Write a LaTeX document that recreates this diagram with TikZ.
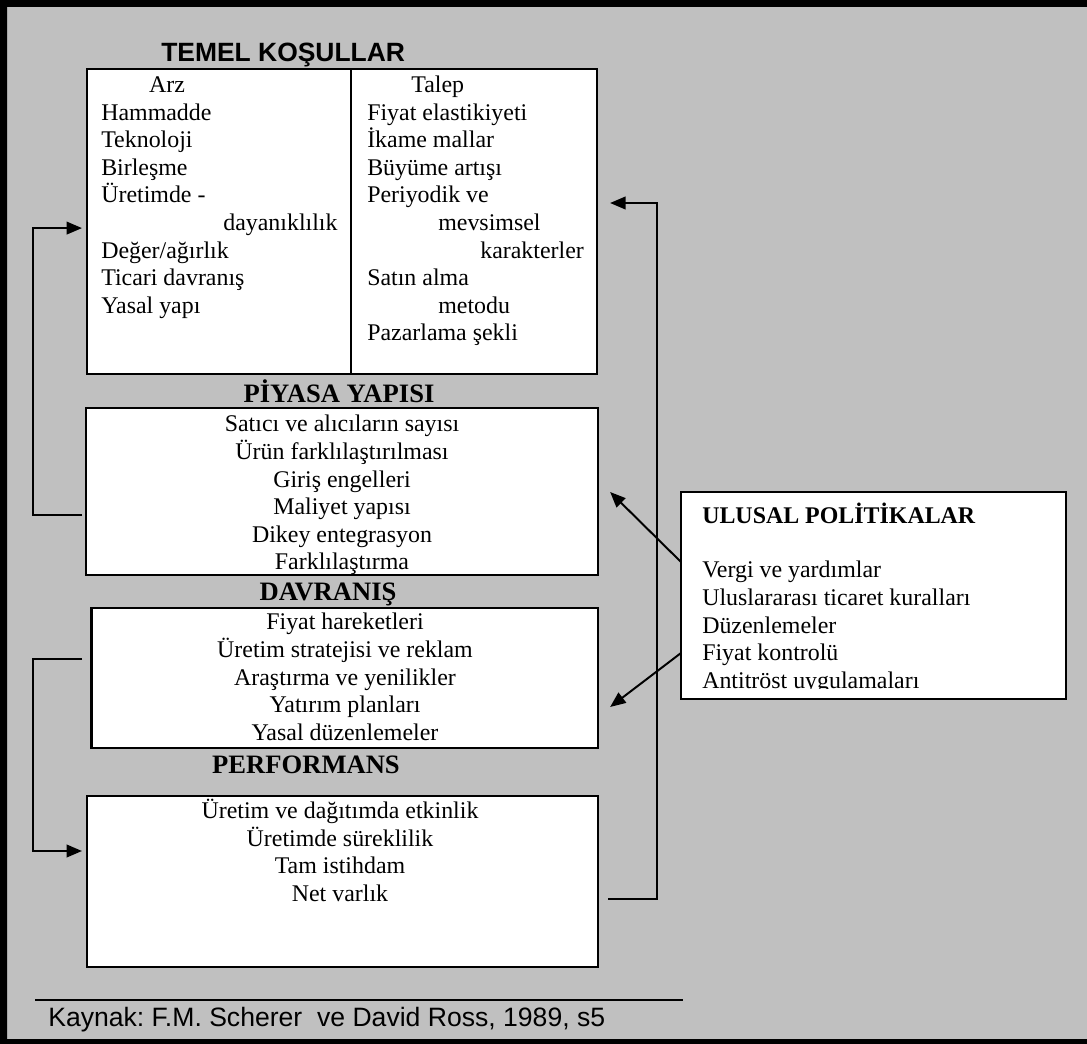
\documentclass[tikz,border=0pt]{standalone}
\usepackage{fontspec}
\setmainfont{Liberation Serif}
\newfontfamily\arialfont{Liberation Sans}
\usetikzlibrary{calc,arrows.meta}
\frenchspacing

\begin{document}
\begin{tikzpicture}[x=0.025cm,y=-0.025cm,line cap=butt,line join=miter]
\definecolor{panelgrey}{rgb}{0.753,0.753,0.753}
\tikzset{
  box/.style={draw=black,fill=white,line width=1.8pt,inner sep=0pt,outer sep=0pt,anchor=north west},
  conn/.style={line width=1.4pt},
  tip/.style={-{Triangle[length=11pt,width=9pt]}},
  body/.style={inner sep=0pt,font=\fontsize{17}{19.6}\selectfont},
  title/.style={inner sep=0pt,anchor=base,font=\fontsize{18.9}{22}\selectfont\bfseries},
}
  \useasboundingbox (0,0) rectangle (1087,1044);
  \fill[panelgrey] (0,0) rectangle (1087,1044);
  % heavy frame, runs off the right edge
  \fill[black,even odd rule] (0,0) rectangle (1100,1044) (7,7) rectangle (1100,1039);

  % the four stacked boxes
  \node[box,minimum width=12.75cm,minimum height=7.625cm] (kosul) at (87,69) {};
  \node[box,minimum width=12.8cm,minimum height=4.175cm] (piyasa) at (86,408) {};
  \node[box,minimum width=12.6625cm,minimum height=3.5cm] (davranis) at (91.5,608) {};
  \node[box,minimum width=12.775cm,minimum height=4.275cm] (perf) at (87,796) {};
  \node[box,line width=1.3pt,minimum width=9.625cm,minimum height=5.175cm] (ulusal) at (681,492) {};

  \draw[line width=1.8pt] ($(kosul.north west)+(264,0)$) -- ($(kosul.south west)+(264,0)$);

  % headings
  \node[inner sep=0pt,anchor=base west,font=\arialfont\fontsize{18.8}{22}\selectfont\bfseries] (temelbaslik) at (161,62) {TEMEL KOŞULLAR};
  \node[title] (piyasabaslik) at (339,402) {PİYASA YAPISI};
  \node[title] (davranisbaslik) at (328,600) {DAVRANIŞ};
  \node[title] (perfbaslik) at (306,773) {PERFORMANS};
  \node[inner sep=0pt,anchor=base west,font=\fontsize{17}{20}\selectfont\bfseries] (ulusalbaslik) at (702,523) {ULUSAL POLİTİKALAR};

  % box contents (base = last line)
  \node[body,anchor=base west,align=left] (arz) at (101,313.2) {\hspace*{34pt}Arz\\Hammadde\\Teknoloji\\Birleşme\\Üretimde -\\\hspace*{86.8pt}dayanıklılık\\Değer/ağırlık\\Ticari davranış\\Yasal yapı};
  \node[body,anchor=base west,align=left] (talep) at (367,340.7) {\hspace*{31.3pt}Talep\\Fiyat elastikiyeti\\İkame mallar\\Büyüme artışı\\Periyodik ve\\\hspace*{50.5pt}mevsimsel\\\hspace*{80.4pt}karakterler\\Satın alma\\\hspace*{50.5pt}metodu\\Pazarlama şekli};
  \node[body,anchor=base,align=center] (yapi) at (342,569.8) {Satıcı ve alıcıların sayısı\\Ürün farklılaştırılması\\Giriş engelleri\\Maliyet yapısı\\Dikey entegrasyon\\Farklılaştırma};
  \node[body,anchor=base,align=center] (hareket) at (345,740.2) {Fiyat hareketleri\\Üretim stratejisi ve reklam\\Araştırma ve yenilikler\\Yatırım planları\\Yasal düzenlemeler};
  \node[body,anchor=base,align=center] (sonuc) at (340,901.5) {Üretim ve dağıtımda etkinlik\\Üretimde süreklilik\\Tam istihdam\\Net varlık};
  \begin{scope}
    % last line is cut off by the text frame
    \clip ($(ulusal.north west)+(1,1)$) rectangle ($(ulusal.south east)+(-1,-11)$);
    \node[body,anchor=base west,align=left] (araclar) at (702,688.2) {Vergi ve yardımlar\\Uluslararası ticaret kuralları\\Düzenlemeler\\Fiyat kontrolü\\Antitröst uygulamaları};
  \end{scope}

  % feedback loops
  \draw[conn,tip] ($(piyasa.south west)+(-4,-60)$) -- ++(-49,0) |- ($(kosul.south west)+(-5,-146)$);
  \draw[conn,tip] ($(davranis.north west)+(-9.5,51)$) -- ++(-49,0) |- ($(perf.north west)+(-5,55)$);
  \draw[conn,tip] ($(perf.east)+(10,17.5)$) -- ++(49,0) |- ($(kosul.north east)+(13,134)$);
  \draw[conn,tip] ($(ulusal.north west)+(0,70)$) -- ($(piyasa.north east)+(12,84)$);
  \draw[conn,tip] ($(ulusal.north west)+(0,161)$) -- ($(davranis.north east)+(12,99)$);

  % source
  \coordinate (cizgibas) at (35,1000);
  \coordinate (cizgison) at (683,1000);
  \draw[line width=1.6pt] (cizgibas) -- (cizgison);
  \node[inner sep=0pt,anchor=base west,font=\arialfont\fontsize{18.9}{22}\selectfont] (kaynak) at (48,1026) {Kaynak: F.M. Scherer\ \ ve David Ross, 1989, s5};
\end{tikzpicture}
\end{document}
